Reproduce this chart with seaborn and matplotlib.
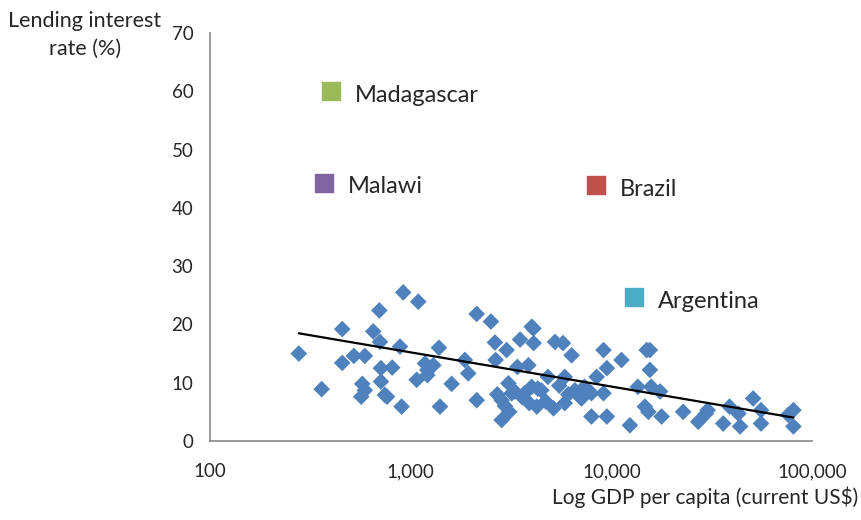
import numpy as np
import pandas as pd
import seaborn as sns
import matplotlib.pyplot as plt
from matplotlib.ticker import FuncFormatter

# GDP per capita (current US$) and lending interest rate (%)
gdp = [277, 360, 456, 456, 521, 591, 574, 567, 591, 698, 651, 703, 711, 809,
       711, 744, 762, 918, 1091, 885, 901, 1071, 1179, 1211, 1297, 1211, 1383,
       1400, 1600, 1862, 2133, 2512, 1936, 2133, 2630, 3006, 2650, 3510, 4010,
       4090, 4100, 3070, 2840, 2840, 3190, 3400, 3860, 4010, 4250, 3700, 4480,
       4830, 5150, 5240, 5740, 6340, 5860, 6580, 5860, 7100, 7960, 8450, 9140,
       9500, 9500, 9140, 11240, 12380, 13550, 15000, 14700, 7960, 7350, 15560,
       15560, 15800, 17500, 15300, 17800, 22800, 27100, 29600, 30200, 36100,
       38800, 43800, 43000, 50900, 55700, 55700, 76200, 80800, 80800,
       2950, 3300, 3600, 4300, 4700, 5500, 6100, 6900, 3100, 2700, 3900]
rate = [15.0, 8.9, 19.2, 13.4, 14.6, 14.6, 9.8, 7.6, 8.7, 22.4, 18.8, 17.0,
        12.5, 12.6, 10.2, 7.9, 7.6, 25.5, 23.9, 16.2, 5.9, 10.5, 13.3, 12.2,
        13.0, 11.3, 16.0, 5.9, 9.8, 13.9, 21.8, 20.5, 11.6, 7.0, 16.9, 15.6,
        13.9, 17.4, 19.6, 19.3, 16.8, 9.9, 7.0, 3.6, 8.2, 12.7, 13.0, 9.3, 5.9,
        8.2, 8.7, 11.0, 5.6, 17.0, 16.8, 14.7, 11.0, 8.7, 6.5, 7.3, 4.2, 11.0,
        15.6, 12.5, 4.2, 8.2, 13.9, 2.7, 9.3, 15.6, 5.9, 8.2, 9.3, 15.6, 12.2,
        9.3, 8.5, 5.0, 4.2, 5.0, 3.3, 4.7, 5.3, 3.0, 5.9, 2.5, 4.7, 7.3, 5.3,
        3.0, 4.5, 5.3, 2.5,
        6.0, 8.5, 7.5, 9.0, 6.8, 9.5, 8.0, 7.8, 5.0, 8.0, 6.5]

countries = ["Madagascar", "Malawi", "Brazil", "Argentina"]
country_gdp = [403, 372, 8430, 12970]
country_rate = [60.0, 44.3, 43.9, 24.7]
country_colors = ["#9BBB59", "#8064A2", "#C0504D", "#4BACC6"]

df = pd.DataFrame({"gdp": gdp, "rate": rate})
# logarithmic trend over all countries, labelled ones included
df_all = pd.DataFrame({"gdp": gdp + country_gdp, "rate": rate + country_rate})

sns.set_style("white")
plt.rcParams["font.family"] = ["Lato", "DejaVu Sans"]

fig = plt.figure(figsize=(8.61, 5.2), dpi=100)
ax = fig.add_axes([210 / 861, 1 - 441 / 520, 602 / 861, 408 / 520])

sns.scatterplot(data=df, x="gdp", y="rate", marker="D", s=72,
                color="#4F81BD", edgecolor="none", ax=ax, zorder=3)
sns.regplot(data=df_all, x="gdp", y="rate", logx=True, ci=None, scatter=False,
            truncate=True, line_kws={"color": "black", "lw": 1.6, "zorder": 4},
            ax=ax)

for name, gx, ry, col in zip(countries, country_gdp, country_rate, country_colors):
    ax.scatter(gx, ry, marker="s", s=150, color=col, zorder=4)
    ax.annotate(name, (gx, ry), xytext=(17, -3), textcoords="offset points",
                va="center", ha="left", fontsize=17, color="#262626")

ax.set_xscale("log")
ax.set_xlim(100, 100000)
ax.set_ylim(0, 70)
ax.set_yticks(range(0, 71, 10))
ax.xaxis.set_major_formatter(FuncFormatter(lambda v, p: f"{int(v):,}"))
ax.xaxis.set_minor_locator(plt.NullLocator())

for s in ["top", "right"]:
    ax.spines[s].set_visible(False)
for s in ["left", "bottom"]:
    ax.spines[s].set_color("#878787")
    ax.spines[s].set_linewidth(1.2)
ax.tick_params(axis="both", direction="out", length=6, width=1.2,
               color="#878787", labelsize=13.5, labelcolor="#262626", pad=6)
ax.tick_params(axis="x", pad=10)
ax.set_xlabel("")
ax.set_ylabel("")

fig.text(85 / 861, 1 - 35 / 520, "Lending interest\nrate (%)", ha="center",
         va="center", fontsize=15.5, color="#262626", linespacing=1.45)
fig.text(858 / 861, 1 - 497 / 520, "Log GDP per capita (current US$)",
         ha="right", va="center", fontsize=15, color="#262626")

fig.savefig("out.png", dpi=100)
